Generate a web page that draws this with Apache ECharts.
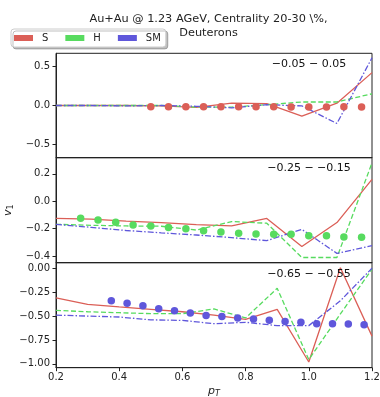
<!DOCTYPE html>
<html><head><meta charset="utf-8">
<script src="https://cdn.jsdelivr.net/npm/echarts@6/dist/echarts.min.js"></script>
<style>html,body{margin:0;padding:0;background:#fff}#c{width:380px;height:397px}</style>
</head><body><div id="c"></div>
<script>
// ---- data ----
const xLine10 = [0.2, 0.311, 0.422, 0.533, 0.644, 0.756, 0.867, 0.978, 1.089, 1.2];
const xLine11 = [0.2, 0.3, 0.4, 0.5, 0.6, 0.7, 0.8, 0.9, 1.0, 1.1, 1.2];

// panel 1: -0.05 - 0.05
const p1S  = [0.0, 0.0, 0.0, -0.005, -0.025, 0.03, 0.025, -0.135, 0.03, 0.42];
const p1H  = [0.0, 0.0, 0.0, 0.0, -0.02, -0.02, 0.01, 0.045, 0.045, 0.15];
const p1SM = [0.0, 0.0, -0.005, 0.0, -0.01, -0.03, 0.01, -0.005, -0.23, 0.61];
const p1DotX = [0.5, 0.556, 0.611, 0.667, 0.722, 0.778, 0.833, 0.889, 0.944, 1.0, 1.056, 1.111, 1.167];
const p1DotY = [-0.015, -0.015, -0.015, -0.015, -0.015, -0.015, -0.015, -0.015, -0.02, -0.02, -0.02, -0.015, -0.02];

// panel 2: -0.25 - -0.15
const p2S  = [-0.125, -0.13, -0.145, -0.155, -0.17, -0.18, -0.125, -0.33, -0.155, 0.16];
const p2H  = [-0.168, -0.175, -0.18, -0.182, -0.21, -0.148, -0.16, -0.41, -0.41, 0.28];
const p2SM = [-0.168, -0.19, -0.213, -0.23, -0.246, -0.265, -0.287, -0.205, -0.38, -0.324];
const p2DotX = [0.278, 0.333, 0.389, 0.444, 0.5, 0.556, 0.611, 0.667, 0.722, 0.778, 0.833, 0.889, 0.944, 1.0, 1.056, 1.111, 1.167];
const p2DotY = [-0.124, -0.136, -0.153, -0.173, -0.18, -0.192, -0.2, -0.215, -0.224, -0.234, -0.239, -0.241, -0.241, -0.251, -0.251, -0.26, -0.263];

// panel 3: -0.65 - -0.55
const p3S  = [-0.31, -0.377, -0.405, -0.43, -0.455, -0.49, -0.535, -0.43, -0.98, 0.005, -0.71];
const p3H  = [-0.44, -0.455, -0.465, -0.475, -0.475, -0.425, -0.52, -0.21, -0.955, -0.478, -0.01];
const p3SM = [-0.49, -0.5, -0.51, -0.54, -0.545, -0.58, -0.565, -0.6, -0.6, -0.34, 0.0];
const p3DotX = [0.375, 0.425, 0.475, 0.525, 0.575, 0.625, 0.675, 0.725, 0.775, 0.825, 0.875, 0.925, 0.975, 1.025, 1.075, 1.125, 1.175];
const p3DotY = [-0.341, -0.365, -0.393, -0.424, -0.445, -0.469, -0.493, -0.504, -0.521, -0.531, -0.545, -0.556, -0.566, -0.58, -0.58, -0.584, -0.59];

const xTicks = [0.2, 0.4, 0.6, 0.8, 1.0, 1.2];
const y1Ticks = [0.5, 0.0, -0.5];
const y2Ticks = [0.2, 0.0, -0.2, -0.4];
const y3Ticks = [0.0, -0.25, -0.5, -0.75, -1.0];
const panelLabels = ['\u22120.05 \u2212 0.05', '\u22120.25 \u2212 \u22120.15', '\u22120.65 \u2212 \u22120.55'];
const seriesNames = ['S', 'H', 'SM'];
const titleText = 'Au+Au @ 1.23 AGeV, Centrality 20-30 \\%,\nDeuterons';

// ---- styling ----
const RED = '#db5f57', GREEN = '#57db5f', BLUE = '#5f57db';
const FONT = 'DejaVu Sans';
const fmtMinus = (s) => s.replace('-', '\u2212');

const grids = [
  {left: 56, right: 8, top: 53.3, height: 104.4},
  {left: 56, right: 8, top: 157.7, height: 105},
  {left: 56, right: 8, top: 262.7, height: 105}
].map(g => Object.assign(g, {show: true, borderColor: '#222', borderWidth: 1, containLabel: false, outerBoundsMode: 'none'}));

function xAxis(i) {
  const bottom = i === 2;
  return {
    type: 'value', gridIndex: i, min: 0.2, max: 1.2, interval: 0.2,
    splitLine: {show: false},
    axisLine: {show: true, onZero: false, lineStyle: {color: '#222', width: 1}},
    axisTick: {show: bottom, length: 3.5, lineStyle: {color: '#222'}, customValues: xTicks},
    axisLabel: {show: bottom, fontFamily: FONT, fontSize: 10, color: '#222', margin: 5,
      customValues: xTicks, formatter: v => v.toFixed(1)},
    name: bottom ? '{p|p}{t|T}' : '', nameLocation: 'middle', nameGap: 16,
    nameTextStyle: {rich: {
      p: {fontFamily: FONT, fontSize: 11, fontStyle: 'italic', color: '#222'},
      t: {fontFamily: FONT, fontSize: 8, fontStyle: 'italic', color: '#222', verticalAlign: 'bottom', padding: [6, 0, 0, 0]}
    }}
  };
}
function yAxis(i, min, max, ticks, dec) {
  const o = {
    type: 'value', gridIndex: i, min: min, max: max,
    splitLine: {show: false},
    axisLine: {show: true, onZero: false, lineStyle: {color: '#222', width: 1}},
    axisTick: {show: true, length: 3.5, lineStyle: {color: '#222'}, customValues: ticks},
    axisLabel: {fontFamily: FONT, fontSize: 10, color: '#222', margin: 6,
      customValues: ticks, formatter: v => fmtMinus(v.toFixed(dec))}
  };
  if (i === 1) {
    o.name = '{v|v}{s|1}';
    o.nameLocation = 'middle';
    o.nameGap = 24;
    o.nameTextStyle = {rich: {
      v: {fontFamily: FONT, fontSize: 11, fontStyle: 'italic', color: '#222'},
      s: {fontFamily: FONT, fontSize: 8, color: '#222', verticalAlign: 'bottom', padding: [6, 0, 0, 0]}
    }};
  }
  return o;
}

const pair = (xs, ys) => xs.map((x, k) => [x, ys[k]]);
function lines(i, xs, s, h, sm) {
  return [
    {name: 'S', type: 'line', xAxisIndex: i, yAxisIndex: i, data: pair(xs, s), showSymbol: false, symbol: 'none',
      lineStyle: {color: RED, width: 1.3, type: 'solid'}, itemStyle: {color: RED}, z: 3},
    {name: 'H', type: 'line', xAxisIndex: i, yAxisIndex: i, data: pair(xs, h), showSymbol: false, symbol: 'none',
      lineStyle: {color: GREEN, width: 1.3, type: [5, 2.5]}, itemStyle: {color: GREEN}, z: 3},
    {name: 'SM', type: 'line', xAxisIndex: i, yAxisIndex: i, data: pair(xs, sm), showSymbol: false, symbol: 'none',
      lineStyle: {color: BLUE, width: 1.3, type: [6, 2, 1.5, 2]}, itemStyle: {color: BLUE}, z: 3}
  ];
}
function dots(i, xs, ys, color) {
  return {name: 'pts' + i, type: 'scatter', xAxisIndex: i, yAxisIndex: i, data: pair(xs, ys),
    symbol: 'circle', symbolSize: 7.5, itemStyle: {color: color, opacity: 1}, z: 4};
}

const series = [].concat(
  lines(0, xLine10, p1S, p1H, p1SM), [dots(0, p1DotX, p1DotY, RED)],
  lines(1, xLine10, p2S, p2H, p2SM), [dots(1, p2DotX, p2DotY, GREEN)],
  lines(2, xLine11, p3S, p3H, p3SM), [dots(2, p3DotX, p3DotY, BLUE)]
);

const labelY = [64, 168.3, 274.3];
const option = {
  animation: false,
  backgroundColor: '#fff',
  title: {text: titleText, left: 203.5, top: 7, textAlign: 'center',
    textStyle: {fontFamily: FONT, fontSize: 11.3, fontWeight: 'normal', color: '#222', lineHeight: 14}},
  legend: {
    data: seriesNames.map((n, k) => ({name: n, itemStyle: {color: [RED, GREEN, BLUE][k]}})),
    left: 11, top: 29, icon: 'rect', itemWidth: 19, itemHeight: 6, itemGap: 17,
    textStyle: {fontFamily: FONT, fontSize: 10, color: '#222', padding: [0, 0, 0, 4]},
    padding: [4, 5, 4, 3], borderColor: '#ccc', borderWidth: 1, borderRadius: 3, backgroundColor: '#fff',
    shadowColor: 'rgba(0,0,0,0.25)', shadowOffsetX: 2, shadowOffsetY: 2, shadowBlur: 0
  },
  grid: grids,
  xAxis: [xAxis(0), xAxis(1), xAxis(2)],
  yAxis: [
    yAxis(0, -0.667, 0.667, y1Ticks, 1),
    yAxis(1, -0.448, 0.318, y2Ticks, 1),
    yAxis(2, -1.04, 0.058, y3Ticks, 2)
  ],
  graphic: panelLabels.map((t, k) => ({type: 'text', x: 309, y: labelY[k], z: 10,
    style: {text: t, fontFamily: FONT, fontSize: 11, fill: '#111', align: 'center', verticalAlign: 'middle'}})),
  series: series
};
const chart = echarts.init(document.getElementById('c'), null, {renderer: 'canvas'});
chart.setOption(option);
</script></body></html>
